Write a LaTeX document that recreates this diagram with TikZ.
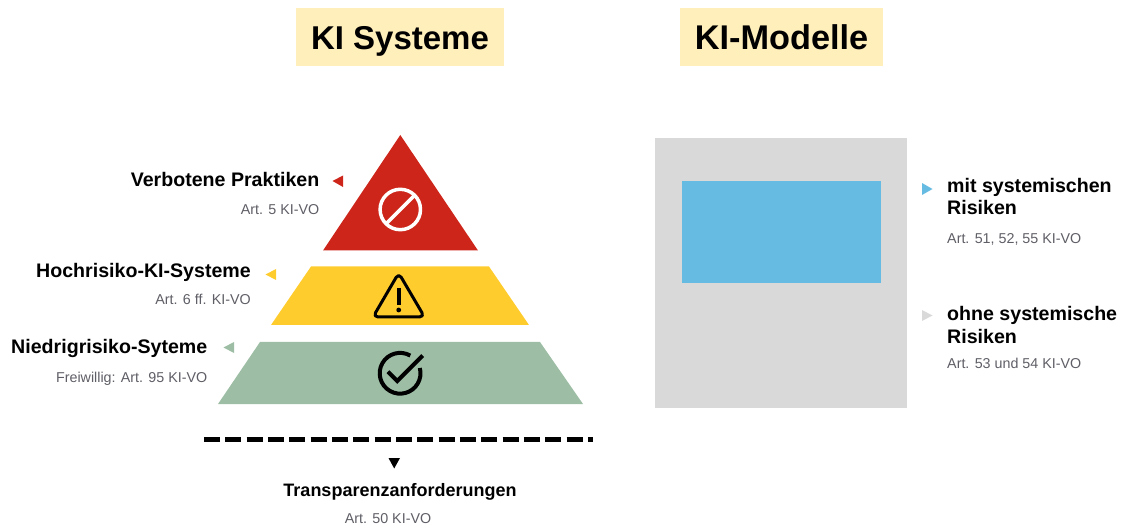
\documentclass[tikz,border=0pt]{standalone}
\usepackage{fontspec}
\setmainfont{Liberation Sans}
\definecolor{redtier}{HTML}{CD2519}
\definecolor{yellowtier}{HTML}{FFCC2E}
\definecolor{greentier}{HTML}{9DBEA5}
\definecolor{titlebg}{HTML}{FFEFBB}
\definecolor{modelgray}{HTML}{D9D9D9}
\definecolor{modelblue}{HTML}{66BBE2}
\definecolor{subgray}{HTML}{5E5E66}
\tikzset{
    title/.style={fill=titlebg, inner sep=0pt, text height=24.2pt, text depth=0pt, font=\fontsize{33}{33}\selectfont\bfseries},
    head/.style={inner sep=0pt, font=\fontsize{19.6}{22}\selectfont\bfseries},
    ref/.style={inner sep=0pt, text=subgray, font=\fontsize{14.3}{16}\selectfont},
    icon/.style={line width=3pt, line cap=round, line join=round}
}
\begin{document}
\begin{tikzpicture}[x=1pt,y=-1pt]
    \useasboundingbox (0,0) rectangle (1121,526);

    % Titles
    \node[title, minimum width=208pt, minimum height=57.5pt] (sys) at (400,37.2) {KI Systeme};
    \node[title, font=\fontsize{34.3}{34}\selectfont\bfseries, minimum width=203pt, minimum height=57.5pt] (mod) at (781.5,37.2) {KI-Modelle};

    % Pyramid
    \fill[redtier] (400.3,135) -- (478,250.5) -- (323,250.5) -- cycle;
    \fill[yellowtier] (311,266.5) -- (489,266.5) -- (529,325) -- (271,325) -- cycle;
    \fill[greentier] (260,342) -- (540,342) -- (583,404) -- (218,404) -- cycle;

    % Icons
    \draw[white, icon, line width=3.5pt] (400.3,209.5) circle (20.2);
    \draw[white, icon, line width=3.5pt, line cap=butt] (386,223.8) -- (414.6,195.2);
    \draw[icon, rounded corners=5pt] (398.7,273) -- (424.5,317) -- (373,317) -- cycle;
    \draw[line width=4pt] (398.7,288.5) -- (398.7,305);
    \fill (398.7,310) circle (2.4);
    \draw[line width=4pt] (410.3,355.6) arc[start angle=60, end angle=375, radius=20.4pt];
    \draw[line width=4pt] (388,371.7) -- (397.3,381) -- (422.7,355.5);

    % Left labels
    \fill[redtier] (332.5,181) -- (343,175.5) -- (343,187) -- cycle;
    \node[head, anchor=base east] (verboten) at (319.5,187) {Verbotene Praktiken};
    \node[ref, anchor=base east] (art5) at (319.5,215) {Art. 5 KI-VO};

    \fill[yellowtier] (265.5,274.5) -- (276,269) -- (276,280) -- cycle;
    \node[head, anchor=base east] (hoch) at (251,278) {Hochrisiko-KI-Systeme};
    \node[ref, anchor=base east] (art6) at (251,305) {Art. 6 ff. KI-VO};

    \fill[greentier] (223.5,347.5) -- (234,342) -- (234,353) -- cycle;
    \node[head, anchor=base east] (niedrig) at (207.5,353) {Niedrigrisiko-Syteme};
    \node[ref, anchor=base east] (art95) at (207.5,382) {Freiwillig: Art. 95 KI-VO};

    % Dashed Line
    \draw[line width=5pt, dash pattern=on 16pt off 5.33pt] (204,439.5) -- (593,439.5);
    \fill (388.5,458) -- (400,458) -- (394.2,468.5) -- cycle;
    \node[head, font=\fontsize{18}{22}\selectfont\bfseries, anchor=base] (transp) at (400,496) {Transparenzanforderungen};
    \node[ref, anchor=base] (art50) at (388,523) {Art. 50 KI-VO};

    % Models
    \fill[modelgray] (654.5,138) rectangle (907,408);
    \fill[modelblue] (682,181.5) rectangle (881,283.5);

    % Right labels
    \fill[modelblue] (922,183) -- (932.5,189) -- (922,195) -- cycle;
    \node[head, anchor=base west, align=left] (mit) at (947,215) {mit systemischen\\Risiken};
    \node[ref, anchor=base west] (art51) at (947,244) {Art. 51, 52, 55 KI-VO};

    \fill[modelgray] (922,310) -- (932.5,315.5) -- (922,321) -- cycle;
    \node[head, anchor=base west, align=left] (ohne) at (947,343) {ohne systemische\\Risiken};
    \node[ref, anchor=base west] (art53) at (947,368) {Art. 53 und 54 KI-VO};
\end{tikzpicture}
\end{document}
